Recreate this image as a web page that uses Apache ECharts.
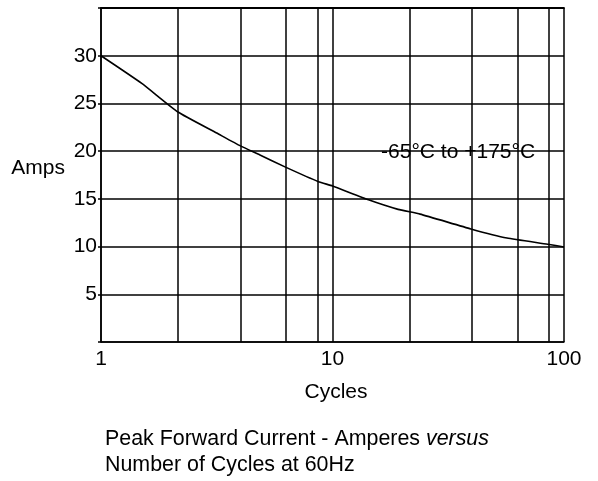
<!DOCTYPE html>
<html>
<head>
<meta charset="utf-8">
<script src="https://cdn.jsdelivr.net/npm/echarts@6/dist/echarts.min.js"></script>
<style>html,body{margin:0;padding:0;background:#fff}#c{width:598px;height:481px}</style>
</head>
<body>
<div id="c"></div>
<script>
// Curve: cycles vs peak forward current (amps)
var cycles = [1, 1.5, 2.15, 3.16, 4, 4.86, 6.3, 8.7, 10, 14.3, 19.2, 23.9, 39.6, 56.7, 85, 100];
var amps   = [30, 27.1, 24.1, 21.9, 20.55, 19.6, 18.3, 16.8, 16.35, 14.9, 13.9, 13.4, 11.85, 10.9, 10.25, 9.95];
// Intermediate vertical grid lines as drawn in the picture
var gridX = [2.15, 4, 6.3, 8.6, 21.5, 40, 63, 86];
var yTicks = [0, 5, 10, 15, 20, 25, 30, 35];
var annotation = { text: '-65°C to +175°C', x: 16.3, y: 19.8 };
var captionLine1 = 'Peak Forward Current - Amperes ';
var captionItalic = 'versus';
var captionLine2 = 'Number of Cycles at 60Hz';

var FONT = 'Liberation Sans, Arial, sans-serif';
var FS = 21;
var FSC = 21.4;
var yMax = yTicks[yTicks.length - 1];
var chart = echarts.init(document.getElementById('c'), null, {renderer: 'canvas'});
var lineStyle = {color: '#000', width: 1.5};
chart.setOption({
  animation: false,
  backgroundColor: '#fff',
  grid: {left: 101, top: 8, right: 34, bottom: 139, containLabel: false},
  xAxis: [{
    type: 'log', logBase: 10, min: 1, max: 100,
    name: 'Cycles', nameLocation: 'middle', nameGap: 40,
    nameTextStyle: {color: '#000', fontSize: FS, fontFamily: FONT, padding: [0, 0, 0, 7]},
    axisLine: {show: true, lineStyle: lineStyle},
    axisTick: {show: false},
    axisLabel: {color: '#000', fontSize: FS, fontFamily: FONT, margin: 7},
    splitLine: {show: true, lineStyle: lineStyle},
    minorTick: {show: false}, minorSplitLine: {show: false}
  }, {
    type: 'log', logBase: 10, min: 1, max: 100, position: 'top',
    axisLine: {show: true, onZero: false, lineStyle: {color: '#000', width: 1.8}},
    axisTick: {show: false}, axisLabel: {show: false}, splitLine: {show: false}
  }],
  yAxis: {
    type: 'value', min: yTicks[0], max: yMax, interval: 5,
    name: 'Amps', nameLocation: 'middle', nameRotate: 0, nameGap: 36,
    nameTextStyle: {color: '#000', fontSize: FS, fontFamily: FONT, verticalAlign: 'bottom', lineHeight: 14},
    axisLine: {show: true, lineStyle: lineStyle},
    axisTick: {show: true, length: 3, lineStyle: lineStyle},
    axisLabel: {color: '#000', fontSize: FS, fontFamily: FONT, margin: 4,
      formatter: function (v) { return (v === yTicks[0] || v === yMax) ? '' : String(v); }},
    splitLine: {show: true, lineStyle: lineStyle}
  },
  series: [
    {
      type: 'line', z: 3,
      data: cycles.map(function (c, i) { return [c, amps[i]]; }),
      showSymbol: false, symbol: 'none', smooth: 0.15,
      lineStyle: {color: '#000', width: 1.6},
      markPoint: {
        silent: true, symbol: 'rect', symbolSize: 1,
        itemStyle: {color: 'rgba(0,0,0,0)'},
        label: {show: true, position: [0, 0], align: 'left', verticalAlign: 'middle',
          color: '#000', fontSize: FS, fontFamily: FONT,
          formatter: function () { return annotation.text; }},
        data: [{coord: [annotation.x, annotation.y]}]
      }
    },
    {
      type: 'line', z: 4, data: [], silent: true,
      markLine: {
        silent: true, symbol: ['none', 'none'], label: {show: false},
        lineStyle: {color: '#000', width: 1.5, type: 'solid'},
        data: gridX.map(function (v) { return {xAxis: v}; })
      }
    }
  ],
  graphic: [{
    type: 'text', left: 105, top: 429,
    style: {
      text: '{n|' + captionLine1 + '}{i|' + captionItalic + '}\n{n|' + captionLine2 + '}',
      rich: {
        n: {fontSize: FSC, fontFamily: FONT, fill: '#000', lineHeight: 25.5},
        i: {fontSize: FSC, fontFamily: FONT, fontStyle: 'italic', fill: '#000', lineHeight: 25.5}
      }
    }
  }]
});
</script>
</body>
</html>
